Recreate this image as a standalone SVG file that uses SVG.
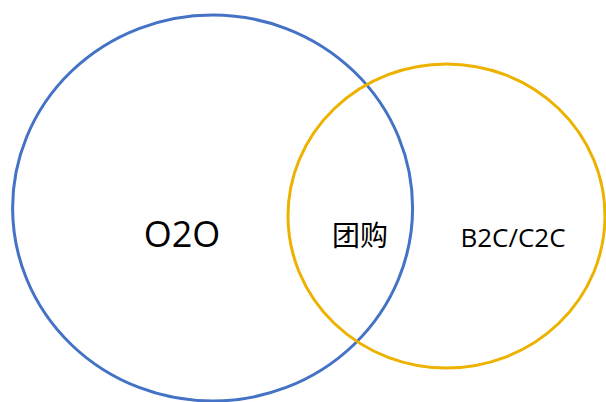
<svg xmlns="http://www.w3.org/2000/svg" width="606" height="402" viewBox="0 0 606 402">
<style>
.ring{fill:none;stroke-width:3}
.lbl{font-family:"Open Sans","Liberation Sans",sans-serif;fill:#000;text-anchor:middle}
.cjk{font-family:"Noto Sans CJK SC",sans-serif;fill:#000;text-anchor:middle}
</style>
<rect width="606" height="402" fill="#fff"/>
<g id="o2o">
<ellipse class="ring" cx="212.6" cy="208" rx="200" ry="193" stroke="#4472C4"/>
<text class="lbl" x="182" y="247" font-size="36">O2O</text>
</g>
<g id="b2c">
<ellipse class="ring" cx="446.5" cy="216" rx="158.5" ry="152" stroke="#EDB100"/>
<text class="lbl" x="513" y="247" font-size="26">B2C/C2C</text>
</g>
<g id="tuangou">
<text class="cjk" x="360" y="246" font-size="28">团购</text>
</g>
<g id="connectors"/>
</svg>
